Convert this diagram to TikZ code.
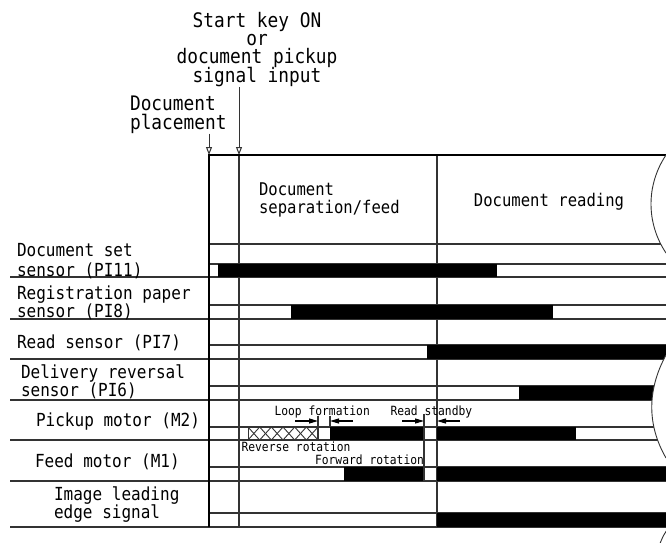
\documentclass[tikz,border=0pt]{standalone}
\usepackage{fontspec}
\usepackage{tikz}
\usetikzlibrary{arrows.meta}
\usetikzlibrary{positioning}
\usetikzlibrary{calc}
\newfontfamily\gothic[FakeStretch=0.89]{DejaVu Sans Mono}
\setlength{\lineskiplimit}{-50pt}

\begin{document}
\begin{tikzpicture}[x=1pt, y=-1pt, line width=1.1pt, draw=black!80, font=\gothic]
	\tikzstyle{toplbl}=[inner sep=0pt, font=\gothic\fontsize{20}{18.3}\selectfont]
	\tikzstyle{hdr}=[inner sep=0pt, font=\gothic\fontsize{17.5}{18}\selectfont]
	\tikzstyle{small}=[inner sep=0pt, font=\gothic\fontsize{12.7}{14}\selectfont]
	\tikzstyle{frame}=[line width=1.8pt, draw=black]
	\tikzstyle{tiparr}=[-{Triangle[open, length=8pt, width=6pt]}, line width=1pt]
	\tikzstyle{dimarr}=[-{Triangle[length=9pt, width=5pt]}, line width=1.1pt, draw=black]
	\tikzset{sig/.style={inner sep=0pt, anchor=base west, align=left, font=\gothic\fontsize{18}{#1}\selectfont}, sig/.default=17.5}

	\useasboundingbox (0,0) rectangle (666,542);
	\clip (0,0) rectangle (666,542);

	% events on top
	\node[toplbl, anchor=base, align=center] (startkey) at (257,82) {Start key ON\\or\\document pickup\\signal input};
	\node[toplbl, anchor=base west, align=left, font=\gothic\fontsize{20}{18.5}\selectfont] (placement) at (129.5,129) {Document\\placement};
	\coordinate (placetip) at (209,155);
	\coordinate (keytip) at (239,155);
	\draw[tiparr] (placement.south -| placetip) -- (placetip);
	\draw[tiparr] (startkey.south -| keytip) -- (keytip);

	% frame and phases
	\draw (239,155) -- (239,527);
	\draw (437,155) -- (437,527);
	\draw (209,244) -- (666,244);
	\node[hdr, anchor=base west, align=left] (sepfeed) at (258.5,213) {Document\\separation/feed};
	\node[hdr, anchor=base] (reading) at (549,206) {Document reading};

	% signal rows
	\foreach \t/\b in {264/277, 305/319, 345/359, 386/400, 427/440, 467/481, 513/527}{
		\draw (209,\t) -- (666,\t);
		\draw (10,\b) -- (666,\b);
	}
	\node[sig=20] (docset) at (16.5,276) {Document set\\sensor (PI11)};
	\node[sig] (regist) at (16.5,317) {Registration paper\\sensor (PI8)};
	\node[sig] (readsens) at (16.5,348) {Read sensor (PI7)};
	\node[sig] (deliv) at (20.5,396) {Delivery reversal\\sensor (PI6)};
	\node[sig] (pickup) at (35.5,426) {Pickup motor (M2)};
	\node[sig] (feedmot) at (34.5,467) {Feed motor (M1)};
	\node[sig] (imgedge) at (53.5,518) {Image leading\\edge signal};

	% on periods
	\foreach \t/\b/\a/\e in {264/277/218/497, 305/319/291/553, 345/359/427/666, 386/400/519/660,
		427/440/330/424, 427/440/437/576, 467/481/344/424, 467/481/437/666, 513/527/437/666}
		\fill[black] (\a,\t) rectangle (\e,\b);

	% reverse rotation of pickup motor
	\foreach \i in {0,...,5}{
		\draw[line width=0.9pt] ({248+\i*11.67},427) -- ({248+(\i+1)*11.67},440);
		\draw[line width=0.9pt] ({248+\i*11.67},440) -- ({248+(\i+1)*11.67},427);
	}
	\draw[line width=0.9pt] (248,427) -- (248,440);

	% loop formation and read standby
	\draw (318,416) -- (318,440);
	\draw (330,416) -- (330,427);
	\draw (424,414) -- (424,481);
	\draw[dimarr] (295,421) -- (318,421);
	\draw[dimarr] (353,421) -- (330,421);
	\draw[dimarr] (402,421) -- (424,421);
	\draw[dimarr] (460,421) -- (437,421);
	\node[small, anchor=base west] (loop) at (274,415) {Loop formation};
	\node[small, anchor=base west] (standby) at (390,415) {Read standby};
	\node[small, anchor=base west] (reverse) at (241,451.5) {Reverse rotation};
	\node[small, anchor=base east] (forward) at (424.5,464) {Forward rotation};

	\draw[frame] (209,155) -- (666,155);
	\draw[frame] (209,154.1) -- (209,527);

	% time axis breaks
	\fill[white] (666,155) .. controls (646,185) and (646,223) .. (666,253) -- (670,253) -- (670,155) -- cycle;
	\draw[line width=0.9pt] (666,155) .. controls (646,185) and (646,223) .. (666,253);
	\fill[white] (666,355) .. controls (647,390) and (647,425) .. (666,458) -- (670,458) -- (670,355) -- cycle;
	\draw[line width=0.9pt] (666,355) .. controls (647,390) and (647,425) .. (666,458);
	\draw[line width=0.9pt] (667,530) .. controls (663,536) .. (659,546);
\end{tikzpicture}
\end{document}
